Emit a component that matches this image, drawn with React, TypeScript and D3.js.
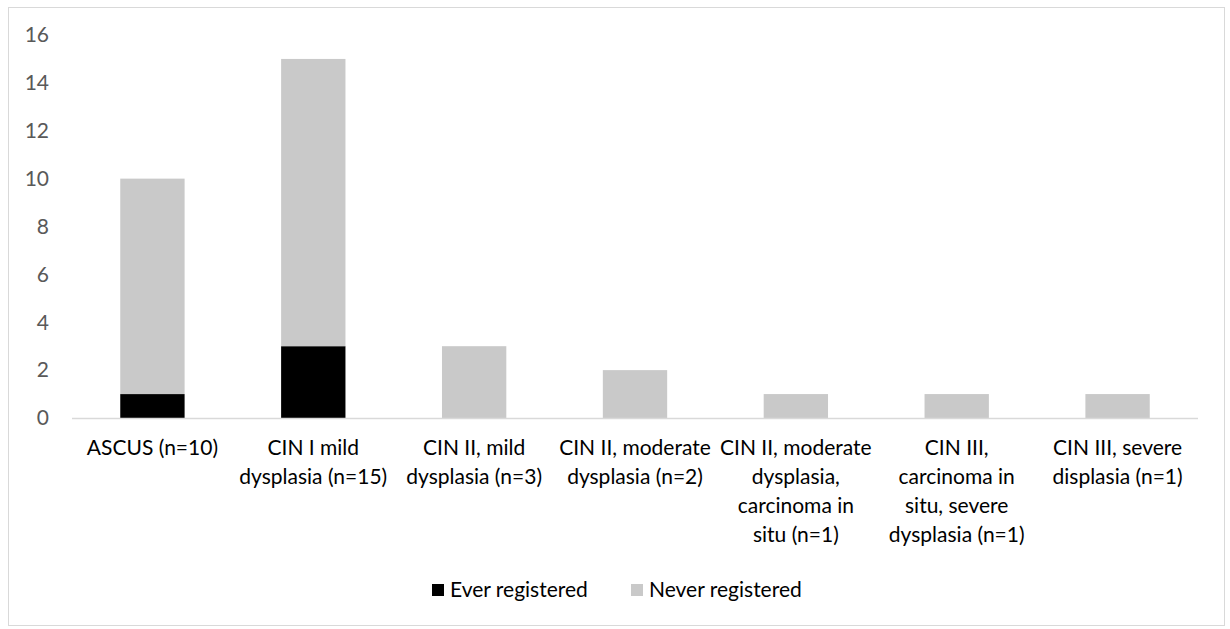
import React from "react";
import * as d3 from "d3";

const categories: string[][] = [
  ["ASCUS (n=10)"],
  ["CIN I mild", "dysplasia (n=15)"],
  ["CIN II, mild", "dysplasia (n=3)"],
  ["CIN II, moderate", "dysplasia (n=2)"],
  ["CIN II, moderate", "dysplasia,", "carcinoma in", "situ (n=1)"],
  ["CIN III,", "carcinoma in", "situ, severe", "dysplasia (n=1)"],
  ["CIN III, severe", "displasia (n=1)"],
];
const everRegistered = [1, 3, 0, 0, 0, 0, 0];
const neverRegistered = [9, 12, 3, 2, 1, 1, 1];
const yTicks = [0, 2, 4, 6, 8, 10, 12, 14, 16];
const seriesNames = ["Ever registered", "Never registered"];
const seriesColors = ["#000000", "#c9c9c9"];

const W = 1230;
const H = 629;
const left = 72;
const right = 1198;
const top = 35;
const bottom = 418;
const FONT = "Lato, 'Open Sans', sans-serif";
const FS = 21;

export default function App() {
  const x = d3
    .scaleBand<number>()
    .domain(categories.map((_, i) => i))
    .range([left, right])
    .paddingInner(0.6)
    .paddingOuter(0.3);
  const y = d3.scaleLinear().domain([0, 16]).range([bottom, top]);

  const stackData = categories.map((_, i) => ({
    ever: everRegistered[i],
    never: neverRegistered[i],
  }));
  const stack = d3.stack<{ ever: number; never: number }>().keys(["ever", "never"]);
  const series = stack(stackData);

  return (
    <svg
      width={W}
      height={H}
      style={{ position: "absolute", left: 0, top: 0 }}
    >
      <rect x={0} y={0} width={W} height={H} fill="#ffffff" />
      <rect x={8.5} y={7.5} width={1216} height={618} fill="#ffffff" stroke="#d9d9d9" strokeWidth={1} />
      {yTicks.map((t) => (
        <text
          key={t}
          x={49}
          y={y(t)}
          dy="0.35em"
          textAnchor="end"
          fontFamily={FONT}
          fontSize={FS}
          fill="#595959"
        >
          {t}
        </text>
      ))}
      {series.map((s, si) =>
        s.map((d, i) =>
          d[1] - d[0] > 0 ? (
            <rect
              key={si + "-" + i}
              x={x(i)}
              y={y(d[1])}
              width={x.bandwidth()}
              height={y(d[0]) - y(d[1])}
              fill={seriesColors[si]}
            />
          ) : null
        )
      )}
      <line x1={left} x2={right} y1={bottom + 0.5} y2={bottom + 0.5} stroke="#d9d9d9" strokeWidth={1.5} />
      {categories.map((lines, i) => (
        <text
          key={i}
          x={(x(i) as number) + x.bandwidth() / 2}
          y={455}
          textAnchor="middle"
          fontFamily={FONT}
          fontSize={FS}
          fill="#000000"
        >
          {lines.map((ln, li) => (
            <tspan key={li} x={(x(i) as number) + x.bandwidth() / 2} dy={li === 0 ? 0 : 29}>
              {ln}
            </tspan>
          ))}
        </text>
      ))}
      {seriesNames.map((name, i) => {
        const lx = i === 0 ? 432 : 631;
        return (
          <g key={name}>
            <rect x={lx} y={584} width={12} height={12} fill={seriesColors[i]} />
            <text x={lx + 18} y={597} fontFamily={FONT} fontSize={FS} fill="#000000">
              {name}
            </text>
          </g>
        );
      })}
    </svg>
  );
}
